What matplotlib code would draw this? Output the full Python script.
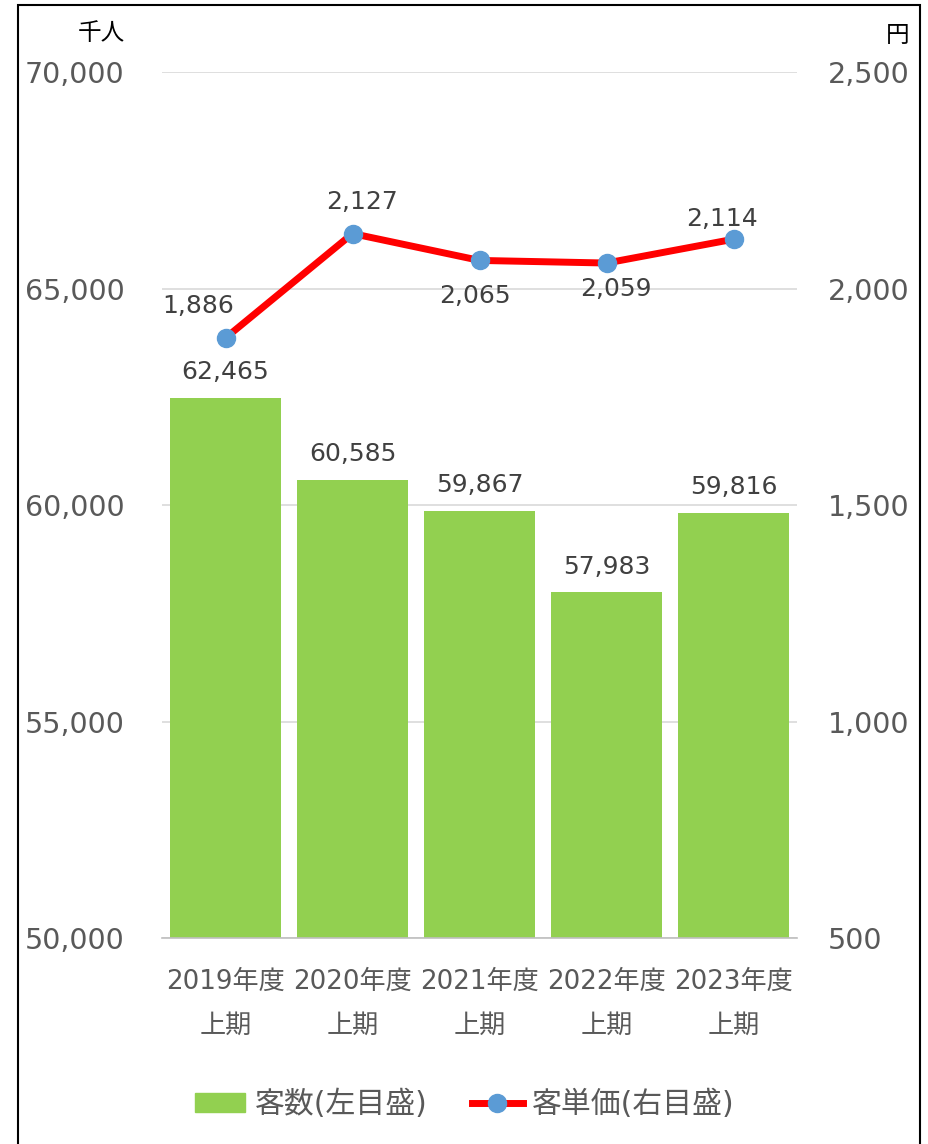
import matplotlib.pyplot as plt
from matplotlib.patches import Rectangle
from matplotlib.lines import Line2D
from matplotlib.ticker import FuncFormatter

plt.rcParams['font.family'] = ['DejaVu Sans', 'Noto Sans CJK JP']

# data
categories = ["2019年度\n上期", "2020年度\n上期", "2021年度\n上期", "2022年度\n上期", "2023年度\n上期"]
customers = [62465, 60585, 59867, 57983, 59816]   # 千人
unit_price = [1886, 2127, 2065, 2059, 2114]        # 円
left_ticks = [50000, 55000, 60000, 65000, 70000]
right_ticks = [500, 1000, 1500, 2000, 2500]

green = "#92d050"
red = "#ff0000"
blue = "#5b9bd5"
gray = "#595959"
dark = "#404040"

fig = plt.figure(figsize=(9.29, 11.44), dpi=100)
ax = fig.add_axes([0.1744, 0.180, 0.6836, 0.757])
ax2 = ax.twinx()

x = list(range(len(categories)))
ax.bar(x, customers, width=0.87, color=green, zorder=2)
ax.set_ylim(50000, 70000)
ax.set_xlim(-0.5, len(categories) - 0.5)
ax.set_yticks(left_ticks)
ax.yaxis.set_major_formatter(FuncFormatter(lambda v, p: f"{int(v):,}"))
ax.grid(axis='y', color="#d9d9d9", linewidth=1.2, zorder=0)
ax.set_axisbelow(True)
for s in ['top', 'right', 'left']:
    ax.spines[s].set_visible(False)
ax.spines['bottom'].set_color("#bfbfbf")
ax.spines['bottom'].set_linewidth(1.2)
ax.tick_params(axis='y', length=0, labelsize=20.5, labelcolor=gray, pad=27)
ax.tick_params(axis='x', length=0, labelsize=18.8, labelcolor=gray, pad=22)
ax.set_xticks(x)
ax.set_xticklabels(categories, linespacing=1.9)

for xi, v in zip(x, customers):
    ax.annotate(f"{v:,}", (xi, v), xytext=(0, 10), textcoords='offset points',
                ha='center', va='bottom', fontsize=18, color=dark)

ax2.plot(x, unit_price, color=red, linewidth=5, marker='o', markersize=13,
         markerfacecolor=blue, markeredgecolor=blue, zorder=3)
ax2.set_ylim(500, 2500)
ax2.set_yticks(right_ticks)
ax2.yaxis.set_major_formatter(FuncFormatter(lambda v, p: f"{int(v):,}"))
for s in ['top', 'right', 'left', 'bottom']:
    ax2.spines[s].set_visible(False)
ax2.tick_params(axis='y', length=0, labelsize=20.5, labelcolor=gray, pad=22)

offsets = [(-20, 14, 'bottom'), (7, 14, 'bottom'), (-3, -17, 'top'), (7, -10, 'top'), (-8, 6, 'bottom')]
for xi, v, (dx, dy, va) in zip(x, unit_price, offsets):
    ax2.annotate(f"{v:,}", (xi, v), xytext=(dx, dy), textcoords='offset points',
                 ha='center', va=va, fontsize=18, color=dark)

# units
fig.text(101 / 929, 1 - 33 / 1144, "千人", ha='center', va='center', fontsize=17, color='black')
fig.text(898 / 929, 1 - 35 / 1144, "円", ha='center', va='center', fontsize=17, color='black')

# legend
handles = [Rectangle((0, 0), 1, 1, color=green),
           Line2D([], [], color=red, linewidth=5, marker='o', markersize=13,
                  markerfacecolor=blue, markeredgecolor=blue)]
fig.legend(handles, ["客数(左目盛)", "客単価(右目盛)"], loc='center',
           bbox_to_anchor=(0.5, 1 - 1104 / 1144), ncol=2, frameon=False,
           fontsize=21.5, labelcolor=gray, handlelength=1.7, handleheight=0.6,
           handletextpad=0.3, columnspacing=1.5)

# outer frame
fig.patches.append(Rectangle((18 / 929, -0.01), (920 - 18) / 929, 1 - 5 / 1144 + 0.01,
                             transform=fig.transFigure, fill=False,
                             edgecolor='black', linewidth=1.5))

fig.savefig("out.png", dpi=100)
